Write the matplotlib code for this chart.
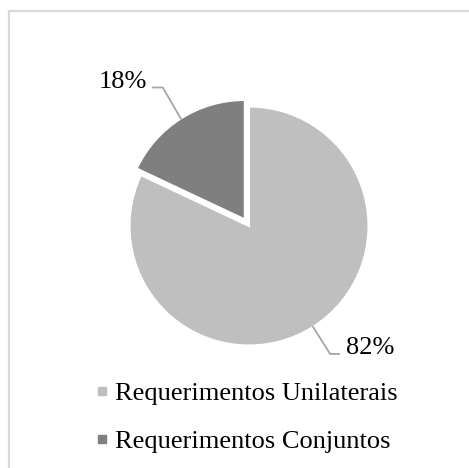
import numpy as np
import matplotlib
matplotlib.use("Agg")
import matplotlib.pyplot as plt
from matplotlib.lines import Line2D
from matplotlib.patches import Rectangle

# data
categories = ["Requerimentos Unilaterais", "Requerimentos Conjuntos"]
values = [82, 18]
pct_labels = ["82%", "18%"]
colors = ["#BFBFBF", "#7F7F7F"]

plt.rcParams["font.family"] = ["Liberation Serif", "DejaVu Serif"]

W, H = 469, 468
fig = plt.figure(figsize=(W / 100, H / 100), dpi=100)

# pie axes: centre (249, 226) px, radius ~119.5 px
cx, cy, r = 249, 226, 119.5
ax = fig.add_axes([(cx - r) / W, 1 - (cy + r) / H, 2 * r / W, 2 * r / H])
wedges, _ = ax.pie(values, colors=colors, startangle=90, counterclock=False,
                   explode=[0, 0.065], wedgeprops=dict(edgecolor="white", linewidth=1.5))
ax.set_xlim(-1, 1)
ax.set_ylim(-1, 1)
ax.set_aspect("equal")
ax.axis("off")

# label layout: (elbow offset, end offset, text position) relative to anchor / axes
layout = [
    dict(elbow=(0.143, -0.226), end=(0.218, -0.226), text=(1.013, -1.021)),
    dict(elbow=(-0.151, 0.26), end=(-0.235, 0.26), text=(-1.054, 1.205)),
]
for w, lab, lay in zip(wedges, pct_labels, layout):
    mid = np.deg2rad((w.theta1 + w.theta2) / 2)
    ax0, ay0 = w.center[0] + w.r * np.cos(mid), w.center[1] + w.r * np.sin(mid)
    xs = [ax0, ax0 + lay["elbow"][0], ax0 + lay["end"][0]]
    ys = [ay0, ay0 + lay["elbow"][1], ay0 + lay["end"][1]]
    ax.plot(xs, ys, color="#A6A6A6", lw=1.3, clip_on=False, solid_joinstyle="miter")
    ax.text(lay["text"][0], lay["text"][1], lab, fontsize=19, ha="center", va="center",
            color="#000000")

handles = [Line2D([], [], marker="s", linestyle="none", markersize=5.3,
                  markerfacecolor=c, markeredgecolor=c) for c in colors]
fig.legend(handles, categories, loc="upper left", bbox_to_anchor=(95 / W, 1 - 382 / H),
           frameon=False, fontsize=19, handlelength=0.5, handletextpad=0.25,
           labelspacing=0.92, borderaxespad=0, borderpad=0)

# light grey frame round the chart area
fig.patches.append(Rectangle((9 / W, -0.05), 1.2, 1 - 11 / H + 0.05, transform=fig.transFigure,
                             fill=False, edgecolor="#D9D9D9", linewidth=1.6, clip_on=False))

fig.savefig("out.png", dpi=100)
